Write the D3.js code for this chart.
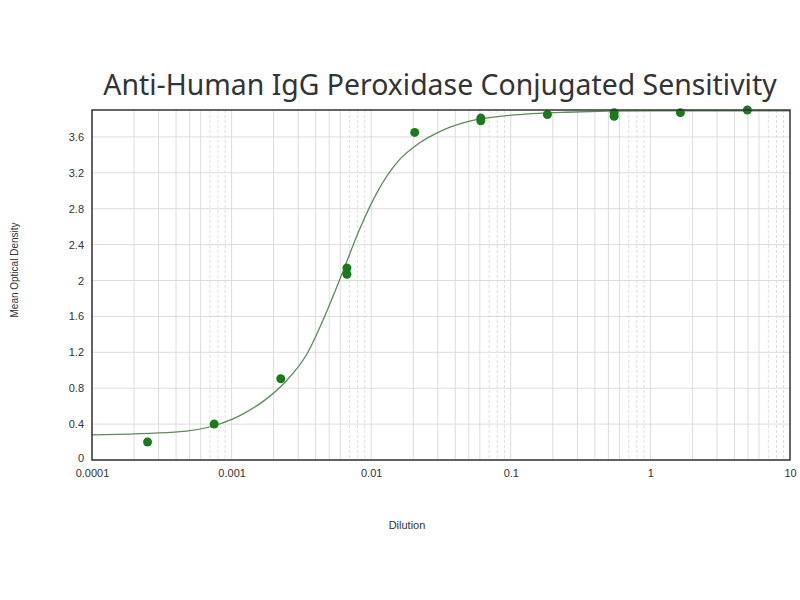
<!DOCTYPE html>
<meta charset="utf-8">
<style>
body { margin: 0; background: #fff; }
.grid line { stroke: #dcdcdc; stroke-width: 1px; }
.grid line.dash { stroke-dasharray: 3,2; }
.axis text { font-family: Arial, "Liberation Sans", sans-serif; font-size: 11px; fill: #333; }
.fit { fill: none; stroke: #5b8c5b; stroke-width: 1.3px; }
</style>
<body>
<script src="https://cdn.jsdelivr.net/npm/d3@7"></script>
<script>

// measured points (dilution, mean OD)
var dilution = [0.00025, 0.00075, 0.00225, 0.0067, 0.0067, 0.0205, 0.061, 0.061, 0.183, 0.55, 0.55, 1.64, 4.95];
var od       = [0.20,    0.40,    0.905,   2.14,   2.07,   3.65,   3.81,  3.78,  3.85,  3.87, 3.83, 3.87, 3.90];

// fitted curve
var fitX = [0.0001, 0.00039, 0.00078, 0.00123, 0.00174, 0.00246, 0.00349, 0.0047, 0.0062,
            0.0082, 0.011, 0.0156, 0.022, 0.031, 0.049, 0.098, 0.246, 0.98, 10];
var fitY = [0.28, 0.31, 0.39, 0.52, 0.67, 0.88, 1.19, 1.62, 2.08,
            2.56, 2.98, 3.33, 3.53, 3.66, 3.77, 3.84, 3.875, 3.89, 3.89];

var xTicks = [0.0001, 0.001, 0.01, 0.1, 1, 10];
var xTickLabels = ["0.0001", "0.001", "0.01", "0.1", "1", "10"];
var yTicks = [0, 0.4, 0.8, 1.2, 1.6, 2, 2.4, 2.8, 3.2, 3.6];

var margin = {top: 110, right: 10, bottom: 140, left: 92},
    width = 800 - margin.left - margin.right,
    height = 600 - margin.top - margin.bottom;

var svg = d3.select("body").append("svg")
    .attr("width", 800)
    .attr("height", 600);

var g = svg.append("g")
    .attr("transform", "translate(" + margin.left + "," + margin.top + ")");

var x = d3.scaleLog().domain([0.0001, 10]).range([0, width]);
var y = d3.scaleLinear().domain([0, 3.9]).range([height, 0]);

// vertical grid: every 1..9 of each decade
var minor = [];
for (var e = -4; e < 1; e++) {
  for (var k = 1; k <= 9; k++) minor.push({v: k * Math.pow(10, e), k: k});
}
g.append("g").attr("class", "grid")
  .selectAll("line").data(minor).enter().append("line")
    .attr("class", function(d) { return d.k >= 7 ? "dash" : null; })
    .attr("x1", function(d) { return x(d.v); })
    .attr("x2", function(d) { return x(d.v); })
    .attr("y1", 0).attr("y2", height);

// horizontal grid
g.append("g").attr("class", "grid")
  .selectAll("line").data(yTicks).enter().append("line")
    .attr("x1", 0).attr("x2", width)
    .attr("y1", function(d) { return y(d); })
    .attr("y2", function(d) { return y(d); });

// fit line
var line = d3.line()
    .x(function(d) { return x(d[0]); })
    .y(function(d) { return y(d[1]); })
    .curve(d3.curveMonotoneX);
g.append("path")
    .datum(d3.zip(fitX, fitY))
    .attr("class", "fit")
    .attr("d", line);

// points
g.selectAll("circle").data(d3.zip(dilution, od)).enter().append("circle")
    .attr("cx", function(d) { return x(d[0]); })
    .attr("cy", function(d) { return y(d[1]); })
    .attr("r", 4.5)
    .attr("fill", "#1b7a1b");

// frame
g.append("rect")
    .attr("width", width).attr("height", height)
    .attr("fill", "none").attr("stroke", "#333").attr("stroke-width", 1.5);

// axes
g.append("g")
    .attr("class", "axis")
    .attr("transform", "translate(0," + height + ")")
    .call(d3.axisBottom(x).tickValues(xTicks).tickSize(0).tickPadding(9)
      .tickFormat(function(d, i) { return xTickLabels[i]; }))
    .call(function(s) { s.select(".domain").remove(); });

g.append("g")
    .attr("class", "axis")
    .call(d3.axisLeft(y).tickValues(yTicks).tickSize(0).tickPadding(8)
      .tickFormat(d3.format("~g")))
    .call(function(s) {
      s.select(".domain").remove();
      s.selectAll(".tick text").filter(function(d) { return d === 0; }).attr("dy", "0.1em");
    });

// titles
svg.append("text")
    .attr("x", 440).attr("y", 95)
    .attr("text-anchor", "middle")
    .style("font-family", "'Noto Sans', 'Open Sans', sans-serif")
    .style("font-size", "28.4px")
    .style("fill", "#333")
    .text("Anti-Human IgG Peroxidase Conjugated Sensitivity");

svg.append("text")
    .attr("x", 407).attr("y", 529)
    .attr("text-anchor", "middle")
    .style("font-family", "Arial, 'Liberation Sans', sans-serif")
    .style("font-size", "11px")
    .style("fill", "#333")
    .text("Dilution");

svg.append("text")
    .attr("transform", "translate(18,270) rotate(-90)")
    .attr("text-anchor", "middle")
    .style("font-family", "Arial, 'Liberation Sans', sans-serif")
    .style("font-size", "10px")
    .style("fill", "#333")
    .text("Mean Optical Density");

</script>
</body>
